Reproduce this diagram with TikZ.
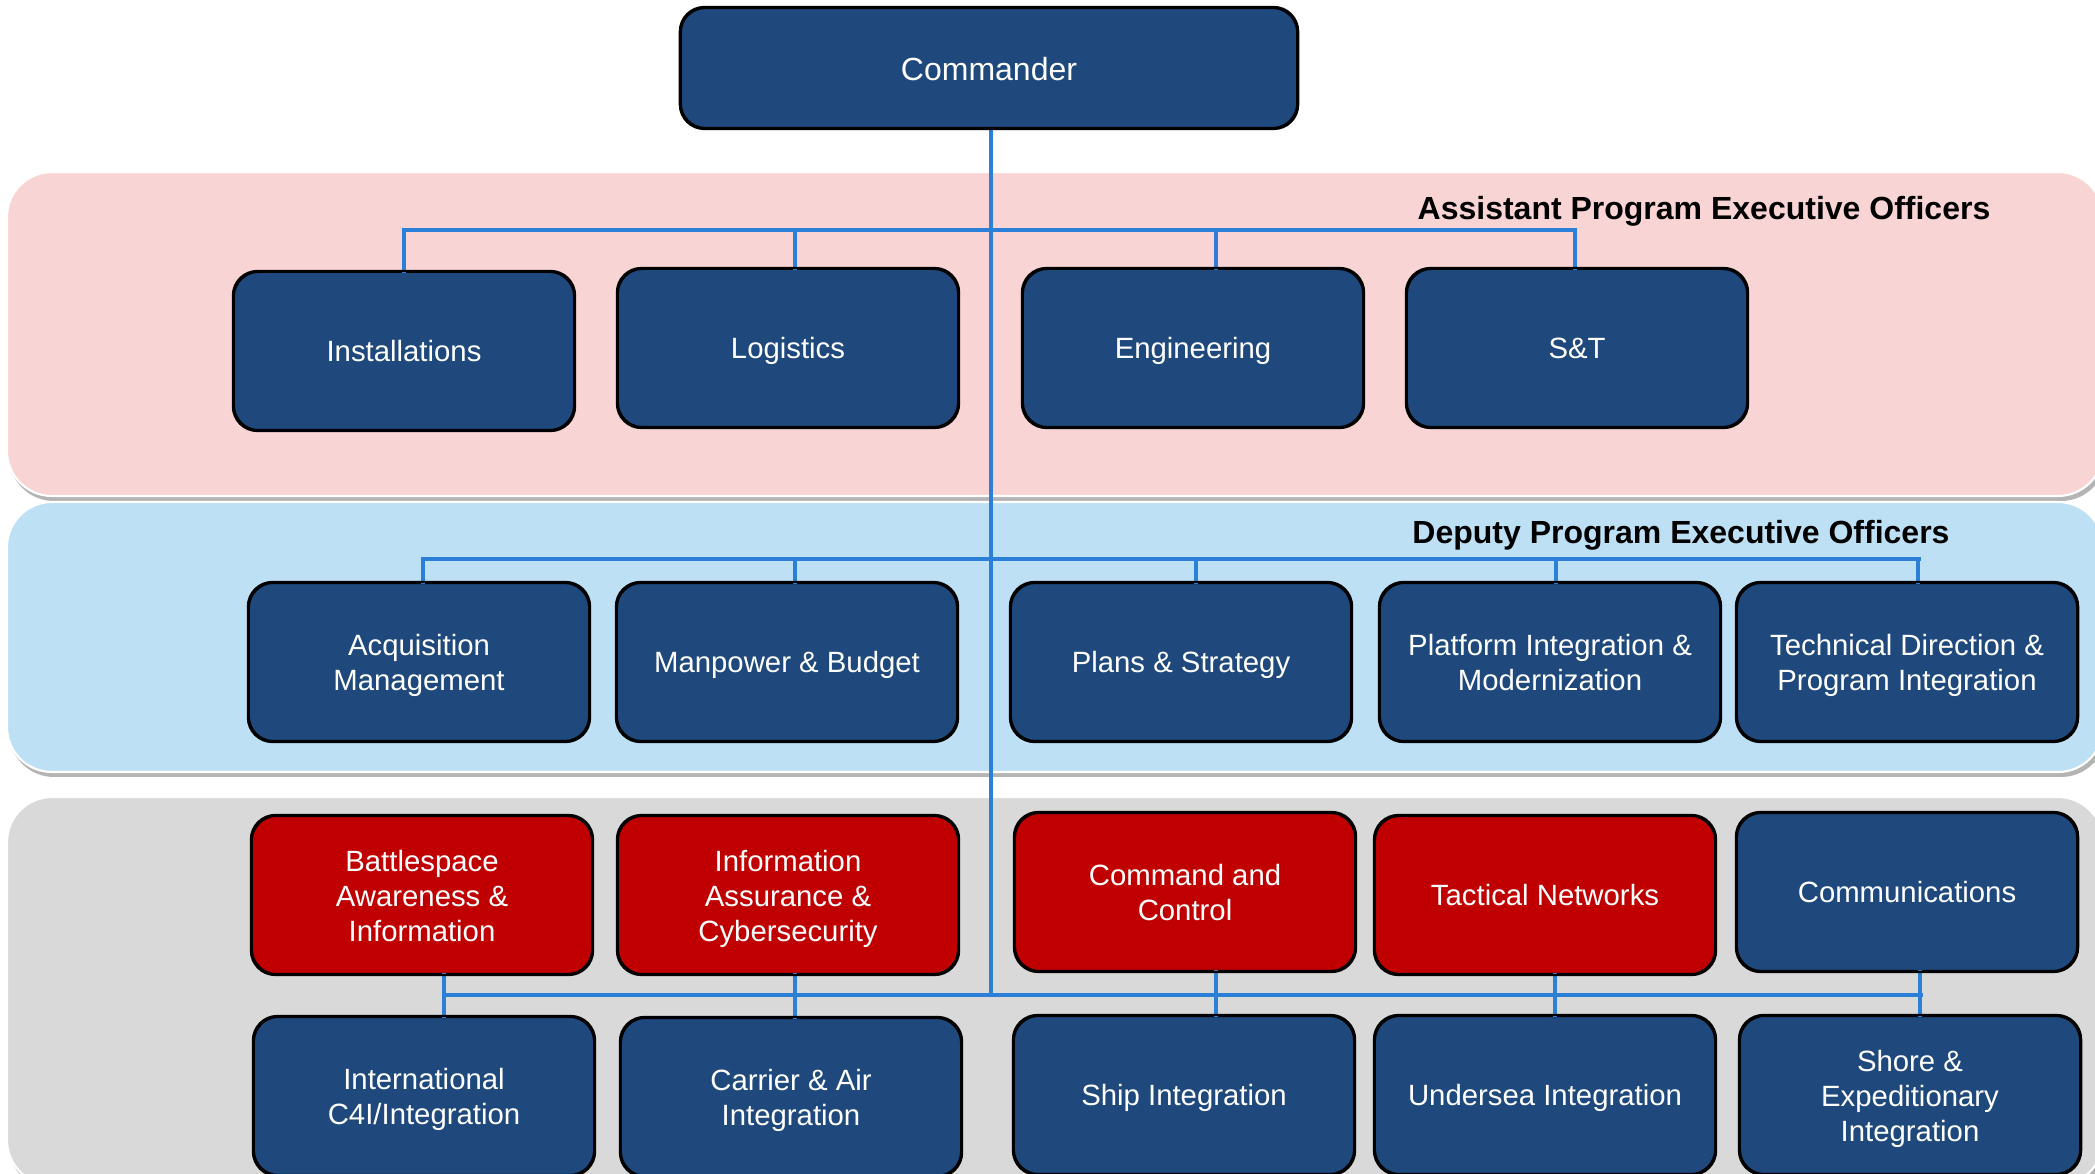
\documentclass[tikz,border=0pt]{standalone}
\usepackage{fontspec}
\setmainfont{Liberation Sans}
\definecolor{boxblue}{HTML}{1F497D}
\definecolor{boxred}{HTML}{C00000}
\definecolor{lineblue}{HTML}{2B7FD6}
\definecolor{bandpink}{HTML}{F9D4D5}
\definecolor{bandblue}{HTML}{BDE0F5}
\definecolor{bandgray}{HTML}{D9D9D9}
\definecolor{shadowgray}{HTML}{B4B4B4}
\newcommand\myasc{\rule{0pt}{0.905em}}
\newcommand\myasccmd{\rule{0pt}{\dimexpr0.905em+0.8pt\relax}}
\newcommand\mydesc{\rule[-0.212em]{0pt}{0.212em}}
% struts for multi-line labels (first / last line)
\newcommand\mlb{\rule{0pt}{\dimexpr0.905em+0.7pt\relax}}
\newcommand\mle{\rule[-0.212em]{0pt}{0.212em}}
\begin{document}
\begin{tikzpicture}[x=0.01cm,y=-0.01cm,
  orgbox/.style={draw=black, line width=0.6pt, fill=boxblue, rounded corners=7pt,
    minimum width=3.4cm, minimum height=1.58cm, inner sep=0pt, text=white,
    align=center, font=\fontsize{8.34}{9.96}\selectfont,
    execute at begin node=\myasc, execute at end node=\mydesc},
  redbox/.style={orgbox, fill=boxred},
  bus/.style={draw=lineblue, line width=1.4pt, line cap=rect},
  drop/.style={draw=lineblue, line width=1pt, line cap=rect},
  trunk/.style={draw=lineblue, line width=1.1pt},
  band/.style={fill=#1, draw=white, line width=0.6pt, rounded corners=12.8pt},
  bandshadow/.style={fill=shadowgray, rounded corners=12.8pt},
  header/.style={font=\fontsize{9.1}{11}\selectfont\bfseries, text=black, inner sep=0pt}
]
\useasboundingbox[fill=white] (0,0) rectangle (2095,1174);

% bands
\path[bandshadow] (9,177) rectangle (2106,501);
\path[band=bandpink] (7,172) rectangle (2103,496);
\path[bandshadow] (9,507) rectangle (2106,777);
\path[band=bandblue] (7,502) rectangle (2103,772);
\path[bandshadow] (9,802) rectangle (2106,1190);
\path[band=bandgray] (7,797) rectangle (2103,1185);

\node[header] (apeo) at (1704,211) {Assistant Program Executive Officers};
\node[header] (dpeo) at (1681,535) {Deputy Program Executive Officers};

% connector coordinates
\coordinate (jB) at (991,995);
\coordinate (a1) at (404,230);
\coordinate (a2) at (795,230);
\coordinate (a3) at (1216,230);
\coordinate (a4) at (1575,230);
\coordinate (d1) at (423,559);
\coordinate (d2) at (795,559);
\coordinate (d3) at (1196,559);
\coordinate (d4) at (1556,559);
\coordinate (d5) at (1918,559);
\coordinate (b1) at (444,995);
\coordinate (b2) at (795,995);
\coordinate (b3) at (1216,995);
\coordinate (b4) at (1555,995);
\coordinate (b5) at (1920,995);

% nodes
\node[orgbox, minimum width=6.16cm, minimum height=1.2cm, font=\fontsize{9.1}{11}\selectfont, execute at begin node=\myasccmd] (cmd) at (989,68) {Commander};

\node[orgbox] (inst) at (404,351) {Installations};
\node[orgbox] (log) at (788,348) {Logistics};
\node[orgbox] (eng) at (1193,348) {Engineering};
\node[orgbox] (st) at (1577,348) {S\&T};

\node[orgbox] (acq) at (419,662) {\mlb Acquisition\\Management\mle};
\node[orgbox] (man) at (787,662) {Manpower \& Budget};
\node[orgbox] (pla) at (1181,662) {Plans \& Strategy};
\node[orgbox] (plt) at (1550,662) {\mlb Platform Integration \&\\Modernization\mle};
\node[orgbox] (tec) at (1907,662) {\mlb Technical Direction \&\\Program Integration\mle};

\node[redbox] (bat) at (422,895) {\mlb Battlespace\\Awareness \&\\Information\mle};
\node[redbox] (ia) at (788,895) {\mlb Information\\Assurance \&\\Cybersecurity\mle};
\node[redbox] (cc) at (1185,892) {\mlb Command and\\Control\mle};
\node[redbox] (tn) at (1545,895) {Tactical Networks};
\node[orgbox] (com) at (1907,892) {Communications};

\node[orgbox] (int) at (424,1096) {\mlb International\\C4I/Integration\mle};
\node[orgbox] (car) at (791,1097) {\mlb Carrier \& Air\\Integration\mle};
\node[orgbox] (shi) at (1184,1095) {Ship Integration};
\node[orgbox] (und) at (1545,1095) {Undersea Integration};
\node[orgbox] (sho) at (1910,1095) {\mlb Shore \&\\Expeditionary\\Integration\mle};

% connectors
\draw[trunk] (cmd.south -| jB) -- (jB);
\draw[bus] (a1) -- (a4);
\draw[drop] (a1) -- (a1 |- inst.north);
\draw[drop] (a2) -- (a2 |- log.north);
\draw[drop] (a3) -- (a3 |- eng.north);
\draw[drop] (a4) -- (a4 |- st.north);

\draw[bus] (d1) -- (d5);
\draw[drop] (d1) -- (d1 |- acq.north);
\draw[drop] (d2) -- (d2 |- man.north);
\draw[drop] (d3) -- (d3 |- pla.north);
\draw[drop] (d4) -- (d4 |- plt.north);
\draw[drop] (d5) -- (d5 |- tec.north);

\draw[bus] (b1) -- (b5);
\draw[drop] (b1 |- bat.south) -- (b1 |- int.north);
\draw[drop] (b2 |- ia.south) -- (b2 |- car.north);
\draw[drop] (b3 |- cc.south) -- (b3 |- shi.north);
\draw[drop] (b4 |- tn.south) -- (b4 |- und.north);
\draw[drop] (b5 |- com.south) -- (b5 |- sho.north);

% redraw box borders over connector ends
\foreach \n in {cmd,inst,log,eng,st,acq,man,pla,plt,tec,com,int,car,shi,und,sho,bat,ia,cc,tn}{
  \draw[black, line width=0.6pt, rounded corners=7pt] (\n.north west) rectangle (\n.south east);
}
\end{tikzpicture}
\end{document}
